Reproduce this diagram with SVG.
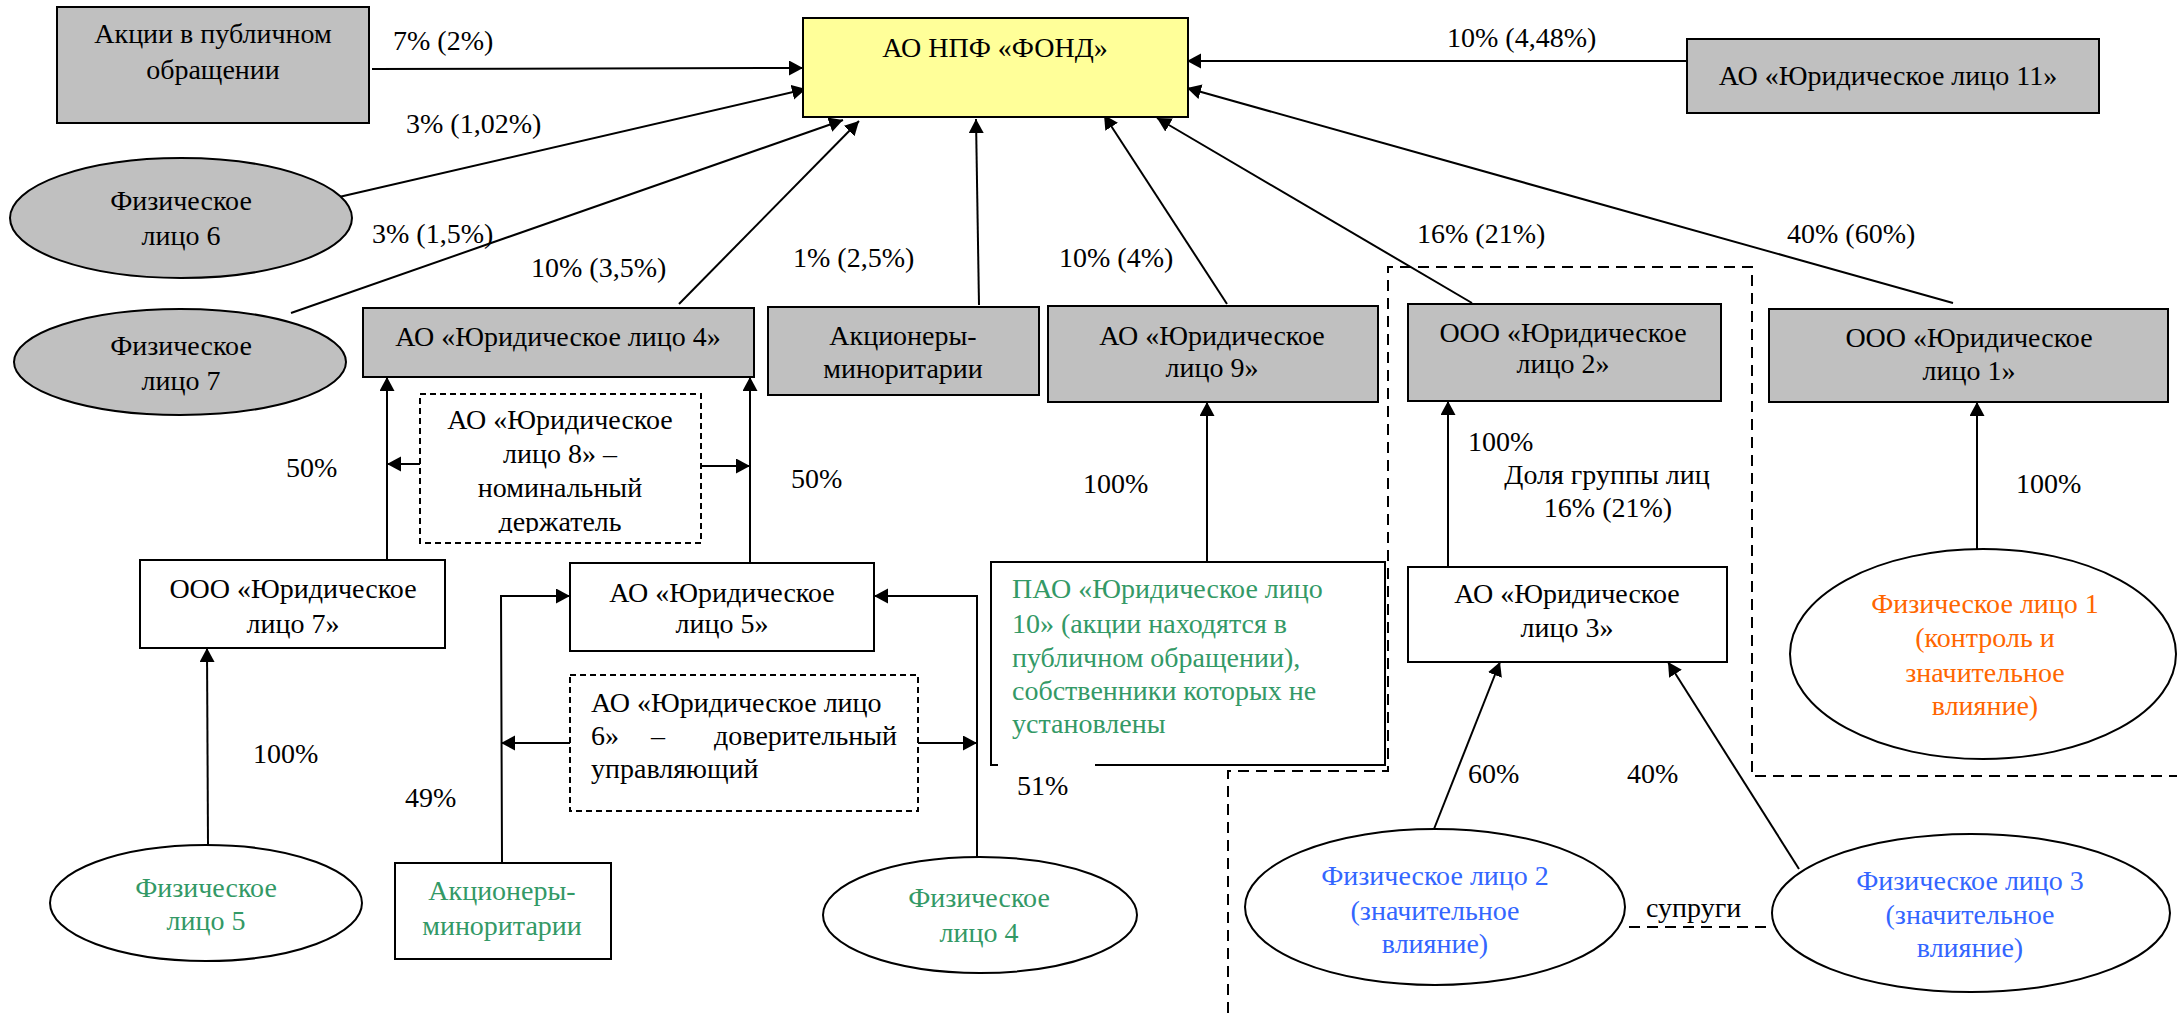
<svg xmlns="http://www.w3.org/2000/svg" width="2177" height="1013" viewBox="0 0 2177 1013">
<style>
.t{font-family:"Liberation Serif","Times New Roman",serif;font-size:28px;fill:#000}
.c{text-anchor:middle}
.e{text-anchor:end}
.g{fill:#339966}
.b{fill:#3366ff}
.o{fill:#ff6600}
.bx{stroke:#000;stroke-width:2;fill:#fff}
.gr{fill:#c0c0c0}
.ds{stroke-dasharray:6 4}
.ln{stroke:#000;stroke-width:2;fill:none}
.ar{marker-end:url(#ah)}
.rg{stroke:#000;stroke-width:2;fill:none;stroke-dasharray:11 7}
</style>
<defs>
<marker id="ah" markerUnits="userSpaceOnUse" markerWidth="16" markerHeight="16" refX="14" refY="7.5" orient="auto">
<path d="M0,0 L14,7.5 L0,15 z" fill="#000"/>
</marker>
<clipPath id="clip8"><rect x="420" y="394" width="281" height="139"/></clipPath>
</defs>
<rect width="2177" height="1013" fill="#fff"/>

<g id="connectors">
<line class="ln ar" x1="372" y1="69" x2="803" y2="68"/>
<line class="ln ar" x1="339" y1="197" x2="806" y2="89"/>
<line class="ln ar" x1="291" y1="313" x2="843" y2="120"/>
<line class="ln ar" x1="679" y1="304" x2="859" y2="121"/>
<line class="ln ar" x1="979" y1="305" x2="976" y2="119"/>
<line class="ln ar" x1="1227" y1="304" x2="1104" y2="115"/>
<line class="ln ar" x1="1472" y1="303" x2="1157" y2="118"/>
<line class="ln ar" x1="1953" y1="303" x2="1187" y2="88"/>
<line class="ln ar" x1="1687" y1="61" x2="1187" y2="61"/>
<line class="ln ar" x1="387" y1="560" x2="387" y2="377"/>
<line class="ln ar" x1="750" y1="563" x2="750" y2="377"/>
<line class="ln ar" x1="420" y1="464" x2="387" y2="464"/>
<line class="ln ar" x1="701" y1="466" x2="750" y2="466"/>
<line class="ln ar" x1="208" y1="845" x2="207" y2="648"/>
<polyline class="ln ar" points="502,863 501,596 570,596"/>
<polyline class="ln ar" points="977,857 977,596 874,596"/>
<line class="ln ar" x1="570" y1="743" x2="501" y2="743"/>
<line class="ln ar" x1="918" y1="743" x2="977" y2="743"/>
<line class="ln ar" x1="1207" y1="567" x2="1207" y2="402"/>
<line class="ln ar" x1="1448" y1="567" x2="1448" y2="401"/>
<line class="ln ar" x1="1434" y1="829" x2="1500" y2="662"/>
<line class="ln ar" x1="1799" y1="869" x2="1668" y2="662"/>
<line class="ln ar" x1="1977" y1="550" x2="1977" y2="402"/>
<line class="rg" x1="1629" y1="927" x2="1773" y2="927"/>
<polyline class="rg" points="1228,1013 1228,771 1388,771 1388,267 1752,267 1752,776 2177,776"/>
</g>

<g id="n-akcii">
<rect class="bx gr" x="57" y="7" width="312" height="116"/>
<text class="t c"><tspan x="213" y="43">Акции в публичном</tspan><tspan x="213" y="79">обращении</tspan></text>
</g>
<g id="n-fond">
<rect class="bx" fill="#ffff99" style="fill:#ffff99" x="803" y="18" width="385" height="99"/>
<text class="t c" x="995" y="57">АО НПФ «ФОНД»</text>
</g>
<g id="n-ul11">
<rect class="bx gr" x="1687" y="39" width="412" height="74"/>
<text class="t c" x="1888" y="85">АО «Юридическое лицо 11»</text>
</g>
<g id="n-fl6">
<ellipse class="bx gr" cx="181" cy="218" rx="171" ry="60"/>
<text class="t c"><tspan x="181" y="210">Физическое</tspan><tspan x="181" y="245">лицо 6</tspan></text>
</g>
<g id="n-fl7">
<ellipse class="bx gr" cx="180" cy="362" rx="166" ry="53"/>
<text class="t c"><tspan x="181" y="355">Физическое</tspan><tspan x="181" y="390">лицо 7</tspan></text>
</g>
<g id="n-ul4">
<rect class="bx gr" x="363" y="308" width="391" height="69"/>
<text class="t c" x="558" y="346">АО «Юридическое лицо 4»</text>
</g>
<g id="n-akcionery1">
<rect class="bx gr" x="768" y="307" width="271" height="88"/>
<text class="t c"><tspan x="903" y="345">Акционеры-</tspan><tspan x="903" y="378">миноритарии</tspan></text>
</g>
<g id="n-ul9">
<rect class="bx gr" x="1048" y="306" width="330" height="96"/>
<text class="t c"><tspan x="1212" y="345">АО «Юридическое</tspan><tspan x="1212" y="377">лицо 9»</tspan></text>
</g>
<g id="n-ul2">
<rect class="bx gr" x="1408" y="304" width="313" height="97"/>
<text class="t c"><tspan x="1563" y="342">ООО «Юридическое</tspan><tspan x="1563" y="373">лицо 2»</tspan></text>
</g>
<g id="n-ul1">
<rect class="bx gr" x="1769" y="309" width="399" height="93"/>
<text class="t c"><tspan x="1969" y="347">ООО «Юридическое</tspan><tspan x="1969" y="380">лицо 1»</tspan></text>
</g>
<g id="n-ul8">
<rect class="bx ds" x="420" y="394" width="281" height="149"/>
<text class="t c" clip-path="url(#clip8)"><tspan x="560" y="429">АО «Юридическое</tspan><tspan x="560" y="463">лицо 8» –</tspan><tspan x="560" y="497">номинальный</tspan><tspan x="560" y="531">держатель</tspan></text>
</g>
<g id="n-ul7">
<rect class="bx" x="140" y="560" width="305" height="88"/>
<text class="t c"><tspan x="293" y="598">ООО «Юридическое</tspan><tspan x="293" y="633">лицо 7»</tspan></text>
</g>
<g id="n-ul5">
<rect class="bx" x="570" y="563" width="304" height="88"/>
<text class="t c"><tspan x="722" y="602">АО «Юридическое</tspan><tspan x="722" y="633">лицо 5»</tspan></text>
</g>
<g id="n-ul6">
<rect class="bx ds" x="570" y="675" width="348" height="136"/>
<text class="t"><tspan x="591" y="712">АО «Юридическое лицо</tspan><tspan x="591" y="745">6»</tspan><tspan x="651" y="745">–</tspan><tspan x="897" y="745" text-anchor="end">доверительный</tspan><tspan x="591" y="778">управляющий</tspan></text>
</g>
<g id="n-ul10">
<rect x="991" y="562" width="394" height="203" fill="#fff"/>
<path class="ln" d="M998,765 L991,765 L991,562 L1385,562 L1385,765 L1095,765"/>
<text class="t g"><tspan x="1012" y="598">ПАО «Юридическое лицо</tspan><tspan x="1012" y="633">10» (акции находятся в</tspan><tspan x="1012" y="667">публичном обращении),</tspan><tspan x="1012" y="700">собственники которых не</tspan><tspan x="1012" y="733">установлены</tspan></text>
</g>
<g id="n-ul3">
<rect class="bx" x="1408" y="567" width="319" height="95"/>
<text class="t c"><tspan x="1567" y="603">АО «Юридическое</tspan><tspan x="1567" y="637">лицо 3»</tspan></text>
</g>
<g id="n-fl1">
<ellipse class="bx" cx="1983" cy="654" rx="193" ry="105"/>
<text class="t c o"><tspan x="1985" y="613">Физическое лицо 1</tspan><tspan x="1985" y="647">(контроль и</tspan><tspan x="1985" y="682">значительное</tspan><tspan x="1985" y="715">влияние)</tspan></text>
</g>
<g id="n-fl5">
<ellipse class="bx" cx="206" cy="903" rx="156" ry="58"/>
<text class="t c g"><tspan x="206" y="897">Физическое</tspan><tspan x="206" y="930">лицо 5</tspan></text>
</g>
<g id="n-akcionery2">
<rect class="bx" x="395" y="863" width="216" height="96"/>
<text class="t c g"><tspan x="502" y="900">Акционеры-</tspan><tspan x="502" y="935">миноритарии</tspan></text>
</g>
<g id="n-fl4">
<ellipse class="bx" cx="980" cy="915" rx="157" ry="58"/>
<text class="t c g"><tspan x="979" y="907">Физическое</tspan><tspan x="979" y="942">лицо 4</tspan></text>
</g>
<g id="n-fl2">
<ellipse class="bx" cx="1435" cy="907" rx="190" ry="78"/>
<text class="t c b"><tspan x="1435" y="885">Физическое лицо 2</tspan><tspan x="1435" y="920">(значительное</tspan><tspan x="1435" y="953">влияние)</tspan></text>
</g>
<g id="n-fl3">
<ellipse class="bx" cx="1971" cy="913" rx="199" ry="79"/>
<text class="t c b"><tspan x="1970" y="890">Физическое лицо 3</tspan><tspan x="1970" y="924">(значительное</tspan><tspan x="1970" y="957">влияние)</tspan></text>
</g>

<g id="labels">
<text class="t" x="393" y="50">7% (2%)</text>
<text class="t" x="406" y="133">3% (1,02%)</text>
<text class="t" x="372" y="243">3% (1,5%)</text>
<text class="t" x="531" y="277">10% (3,5%)</text>
<text class="t" x="793" y="267">1% (2,5%)</text>
<text class="t" x="1059" y="267">10% (4%)</text>
<text class="t" x="1417" y="243">16% (21%)</text>
<text class="t" x="1787" y="243">40% (60%)</text>
<text class="t" x="1447" y="47">10% (4,48%)</text>
<text class="t" x="286" y="477">50%</text>
<text class="t" x="791" y="488">50%</text>
<text class="t" x="1083" y="493">100%</text>
<text class="t" x="1468" y="451">100%</text>
<text class="t c"><tspan x="1607" y="484">Доля группы лиц</tspan><tspan x="1608" y="517">16% (21%)</tspan></text>
<text class="t" x="2016" y="493">100%</text>
<text class="t" x="253" y="763">100%</text>
<text class="t" x="405" y="807">49%</text>
<text class="t" x="1017" y="795">51%</text>
<text class="t" x="1468" y="783">60%</text>
<text class="t" x="1627" y="783">40%</text>
<text class="t" x="1646" y="917">супруги</text>
</g>
</svg>
